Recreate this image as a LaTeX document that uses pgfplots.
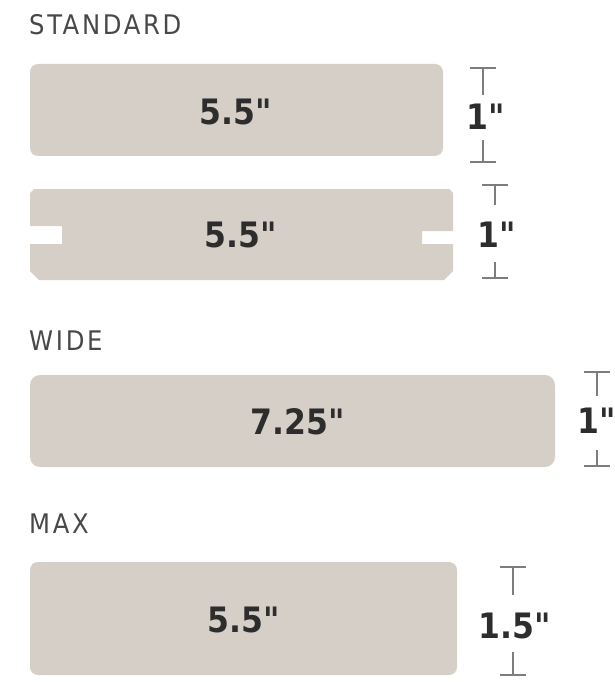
\documentclass[border=0pt]{standalone}
\usepackage{fontspec}
\setmainfont{DejaVu Sans}
\newfontfamily\titlefont[LetterSpace=10]{DejaVu Sans Condensed}
\newfontfamily\numfont{DejaVu Sans Condensed Bold}
\usepackage{pgfplots}
\pgfplotsset{compat=1.18}
\definecolor{board}{RGB}{214,207,200}
\definecolor{titlegray}{RGB}{72,72,72}
\definecolor{numdark}{RGB}{45,45,45}
\definecolor{dimgray}{RGB}{125,125,125}
\begin{document}
\begin{tikzpicture}
\useasboundingbox (0,0) rectangle (614pt,682pt);
\begin{axis}[
  at={(0,0)}, anchor=south west,
  x=1pt, y=1pt, y dir=reverse,
  xmin=0, xmax=614, ymin=0, ymax=682,
  scale only axis, hide axis, clip=true,
]
% boards (profiles)
\addplot[fill=board, draw=none, rounded corners=8pt] coordinates {(30,64) (443,64) (443,156) (30,156)} -- cycle;
\addplot[fill=board, draw=none] coordinates {(34,189) (449,189) (453,193) (453,231) (422,231) (422,244) (453,244) (453,271) (444,280) (39,280) (30,271) (30,244) (62,244) (62,226) (30,226) (30,193)} -- cycle;
\addplot[fill=board, draw=none, rounded corners=10pt] coordinates {(30,375) (555,375) (555,467) (30,467)} -- cycle;
\addplot[fill=board, draw=none, rounded corners=8pt] coordinates {(30,562) (457,562) (457,675) (30,675)} -- cycle;
% dimension markers
\pgfplotsset{dimline/.style={draw=dimgray, line width=1.4pt, mark=none}}
\addplot[dimline] coordinates {(470,68) (496,68)};
\addplot[dimline] coordinates {(483,68) (483,95)};
\addplot[dimline] coordinates {(483,140) (483,162)};
\addplot[dimline] coordinates {(470,162) (496,162)};
\addplot[dimline] coordinates {(482,185) (508,185)};
\addplot[dimline] coordinates {(495,185) (495,205)};
\addplot[dimline] coordinates {(495,262) (495,278)};
\addplot[dimline] coordinates {(482,278) (508,278)};
\addplot[dimline] coordinates {(584,372) (610,372)};
\addplot[dimline] coordinates {(597,372) (597,396)};
\addplot[dimline] coordinates {(597,450) (597,466)};
\addplot[dimline] coordinates {(584,466) (610,466)};
\addplot[dimline] coordinates {(500,567) (526,567)};
\addplot[dimline] coordinates {(513,567) (513,595)};
\addplot[dimline] coordinates {(513,652) (513,675)};
\addplot[dimline] coordinates {(500,675) (526,675)};
% titles
\node[anchor=base west, inner sep=0pt, text=titlegray, font=\titlefont\fontsize{27}{30}\selectfont] at (axis cs:29,35) {STANDARD};
\node[anchor=base west, inner sep=0pt, text=titlegray, font=\titlefont\fontsize{27}{30}\selectfont] at (axis cs:29,350) {WIDE};
\node[anchor=base west, inner sep=0pt, text=titlegray, font=\titlefont\fontsize{27}{30}\selectfont] at (axis cs:29,533) {MAX};
% widths
\tikzset{num/.style={anchor=center, inner sep=0pt, text=numdark, font=\numfont\fontsize{35}{40}\selectfont}}
\node[num] at (axis cs:236,112) {5.5"};
\node[num] at (axis cs:241,235) {5.5"};
\node[num] at (axis cs:298,422) {7.25"};
\node[num] at (axis cs:244,620) {5.5"};
% thicknesses
\node[num] at (axis cs:486,117) {1"};
\node[num] at (axis cs:497,235) {1"};
\node[num] at (axis cs:597,421) {1"};
\node[num] at (axis cs:515,626) {1.5"};
\end{axis}
\end{tikzpicture}
\end{document}
